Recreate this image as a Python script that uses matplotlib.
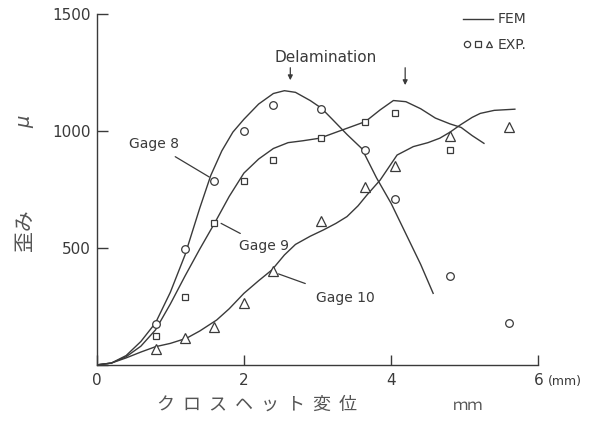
import matplotlib
matplotlib.use("Agg")
import matplotlib.pyplot as plt
from matplotlib.lines import Line2D
from matplotlib.legend_handler import HandlerTuple

plt.rcParams['font.family'] = ['DejaVu Sans', 'Noto Sans CJK JP']

INK = '#3a3a3a'

# crosshead displacement (mm) of the experimental readings
exp_x8 = [0.8, 1.2, 1.6, 2.0, 2.4, 3.05, 3.65, 4.05, 4.8, 5.6]
exp_y8 = [175, 495, 785, 1000, 1110, 1095, 920, 710, 380, 180]
exp_x9 = [0.8, 1.2, 1.6, 2.0, 2.4, 3.05, 3.65, 4.05, 4.8]
exp_y9 = [125, 290, 605, 785, 875, 970, 1040, 1075, 920]
exp_x10 = [0.8, 1.2, 1.6, 2.0, 2.4, 3.05, 3.65, 4.05, 4.8, 5.6]
exp_y10 = [70, 115, 160, 265, 400, 615, 760, 850, 980, 1015]

# FEM curves
fem_x8 = [0, 0.2, 0.4, 0.6, 0.8, 1.0, 1.2, 1.4, 1.55, 1.7, 1.85, 2.0, 2.2, 2.4,
          2.55, 2.7, 2.9, 3.05, 3.2, 3.4, 3.6, 3.8, 4.0, 4.2, 4.4, 4.57]
fem_y8 = [0, 8, 40, 100, 180, 310, 470, 670, 810, 915, 995, 1050, 1115, 1160,
          1172, 1165, 1130, 1098, 1050, 985, 925, 800, 690, 560, 430, 306]
fem_x9 = [0, 0.2, 0.4, 0.6, 0.8, 1.0, 1.2, 1.4, 1.6, 1.8, 2.0, 2.2, 2.4, 2.6,
          2.8, 3.03, 3.3, 3.65, 3.85, 4.03, 4.2, 4.4, 4.6, 4.8, 4.95, 5.1, 5.26]
fem_y9 = [0, 8, 35, 80, 150, 260, 380, 495, 605, 720, 820, 880, 925, 950,
          958, 969, 1000, 1040, 1090, 1130, 1125, 1095, 1055, 1030, 1015, 980, 947]
fem_x10 = [0, 0.2, 0.4, 0.6, 0.8, 1.0, 1.22, 1.4, 1.63, 1.8, 2.0, 2.2, 2.38, 2.55,
           2.7, 2.9, 3.08, 3.25, 3.4, 3.55, 3.67, 3.85, 4.08, 4.3, 4.5, 4.66, 4.8,
           4.94, 5.1, 5.21, 5.4, 5.68]
fem_y10 = [0, 8, 30, 55, 78, 92, 114, 145, 192, 240, 306, 360, 406, 470,
           515, 550, 577, 605, 634, 680, 726, 790, 897, 933, 950, 969, 995,
           1026, 1058, 1075, 1088, 1093]

fig = plt.figure(figsize=(5.93, 4.36), dpi=100)
ax = fig.add_axes([0.163, 0.163, 0.745, 0.805])

for fx, fy in [(fem_x8, fem_y8), (fem_x9, fem_y9), (fem_x10, fem_y10)]:
    ax.plot(fx, fy, color=INK, linewidth=1.0)

mk = dict(linestyle='none', markerfacecolor='white', markeredgecolor=INK, markeredgewidth=0.9)
ax.plot(exp_x8, exp_y8, marker='o', markersize=5.5, **mk)
ax.plot(exp_x9, exp_y9, marker='s', markersize=5, **mk)
ax.plot(exp_x10, exp_y10, marker='^', markersize=6.5, **mk)

ax.set_xlim(0, 6)
ax.set_ylim(0, 1500)
ax.set_xticks([0, 2, 4, 6])
ax.set_yticks([0, 500, 1000, 1500])
ax.set_yticklabels(['', '500', '1000', '1500'])
for side in ['top', 'right']:
    ax.spines[side].set_visible(False)
for side in ['left', 'bottom']:
    ax.spines[side].set_color(INK)
    ax.spines[side].set_linewidth(1.0)
ax.tick_params(axis='x', direction='in', length=7, width=1.0, color=INK,
               labelcolor=INK, labelsize=11, pad=6)
ax.tick_params(axis='y', direction='in', length=8, width=1.0, color=INK,
               labelcolor=INK, labelsize=11, pad=4)
ax.text(1.022, -0.046, '(mm)', transform=ax.transAxes, ha='left', va='center',
        fontsize=9, color=INK)

# labels for the gages
ax.annotate('Gage 8', xy=(1.53, 803), xytext=(0.78, 944), ha='center', va='center',
            fontsize=10, color=INK,
            arrowprops=dict(arrowstyle='-', color=INK, lw=0.9, shrinkA=4, shrinkB=0))
ax.annotate('Gage 9', xy=(1.69, 605), xytext=(2.27, 509), ha='center', va='center',
            fontsize=10, color=INK,
            arrowprops=dict(arrowstyle='-', color=INK, lw=0.9, shrinkA=4, shrinkB=0))
ax.annotate('Gage 10', xy=(2.47, 389), xytext=(3.38, 286), ha='center', va='center',
            fontsize=10, color=INK,
            arrowprops=dict(arrowstyle='-', color=INK, lw=0.9, shrinkA=10, shrinkB=0))

# delamination markers
ax.text(2.42, 1312, 'Delamination', ha='left', va='center', fontsize=11, color=INK)
ax.annotate('', xy=(2.63, 1205), xytext=(2.63, 1282),
            arrowprops=dict(arrowstyle='-|>', color=INK, lw=0.9, mutation_scale=7))
ax.annotate('', xy=(4.19, 1184), xytext=(4.19, 1282),
            arrowprops=dict(arrowstyle='-|>', color=INK, lw=0.9, mutation_scale=7))

# legend
fem_h = Line2D([], [], color=INK, linewidth=1.0)
c_h = Line2D([], [], marker='o', markersize=4.5, **mk)
s_h = Line2D([], [], marker='s', markersize=4, **mk)
t_h = Line2D([], [], marker='^', markersize=5, **mk)
leg = ax.legend([fem_h, (c_h, s_h, t_h)], ['FEM', 'EXP.'],
                handler_map={tuple: HandlerTuple(ndivide=None, pad=0.2)},
                loc='upper left', bbox_to_anchor=(0.80, 1.04), frameon=False,
                fontsize=10, handlelength=2.2, handletextpad=0.3, labelspacing=0.8,
                labelcolor=INK)

# axis titles
fig.text(0.433, 0.071, 'ク  ロ  ス  ヘ  ッ  ト  変  位', ha='center', va='center',
         fontsize=13, color='#555555', family=['Noto Sans CJK JP'])
fig.text(0.789, 0.071, 'ｍｍ', ha='center', va='center', fontsize=11,
         color='#555555', family=['Noto Sans CJK JP'])
fig.text(0.042, 0.472, '歪み', rotation=90, ha='center', va='center', fontsize=15,
         color='#555555', family=['Noto Sans CJK JP'])
fig.text(0.042, 0.72, 'μ', rotation=90, ha='center', va='center', fontsize=14,
         color='#555555', style='italic')

fig.savefig('out.png', dpi=100, facecolor='white')
